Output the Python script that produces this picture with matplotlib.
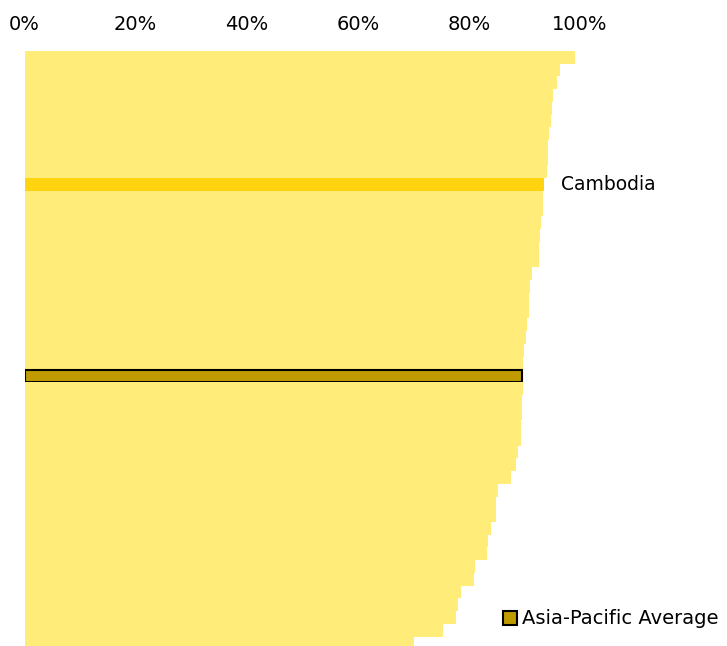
import numpy as np
import matplotlib.pyplot as plt
from matplotlib.patches import Patch

# %% data (share in %, sorted from highest to lowest)
values = [99.1, 96.4, 95.9, 95.2, 95.0, 94.7, 94.5, 94.3, 94.2, 94.0,
          93.5, 93.4, 93.3, 92.9, 92.8, 92.7, 92.6, 91.4, 91.0, 90.9,
          90.8, 90.4, 90.2, 90.0, 89.8, 89.6, 89.7, 89.6, 89.6, 89.4,
          89.3, 88.8, 88.5, 87.6, 85.3, 84.9, 84.8, 84.0, 83.4, 83.2,
          81.1, 81.0, 78.5, 78.0, 77.7, 75.4, 70.1]
highlight_idx = 10
highlight_name = "Cambodia"
average_idx = 25
average_name = "Asia-Pacific Average"
xticks = [0, 20, 40, 60, 80, 100]
xtick_labels = ["0%", "20%", "40%", "60%", "80%", "100%"]

# %% colors
c_bar = "#FFEC79"
c_highlight = "#FFD30F"
c_average = "#BF9B00"

plt.rcParams["font.family"] = ["DejaVu Sans"]

# %% plot
fig = plt.figure(figsize=(7.27, 6.46), dpi=100)
ax = fig.add_axes([24.5 / 727, 0, 555.5 / 727, 595 / 646])

y = np.arange(len(values))
colors = [c_bar] * len(values)
colors[highlight_idx] = c_highlight
colors[average_idx] = c_average
bars = ax.barh(y, values, height=1.0, color=colors, linewidth=0)
# average bar gets a black outline
bars[average_idx].set_edgecolor("black")
bars[average_idx].set_linewidth(1.5)
bars[average_idx].set_height(0.95)
bars[average_idx].set_y(average_idx - 0.475)

ax.text(values[highlight_idx] + 3, highlight_idx, highlight_name,
        va="center", ha="left", fontsize=13.5)

ax.set_xlim(0, 100)
ax.set_ylim(46.24, -0.5)
ax.xaxis.tick_top()
ax.set_xticks(xticks)
ax.set_xticklabels(xtick_labels, fontsize=14)
ax.tick_params(axis="x", length=0, pad=12)
ax.set_yticks([])
for s in ax.spines.values():
    s.set_visible(False)

# legend in the lower right corner
handle = Patch(facecolor=c_average, edgecolor="black", linewidth=1.5)
fig.legend([handle], [average_name], loc="lower right",
           bbox_to_anchor=(1.012, 0.0), frameon=False, fontsize=14,
           handlelength=0.7, handleheight=0.7, handletextpad=0.25)

plt.savefig("out.png", dpi=100)
